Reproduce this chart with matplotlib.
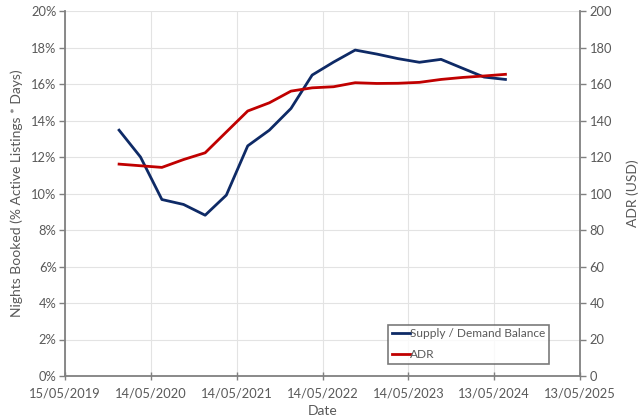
import matplotlib
matplotlib.use("Agg")
import matplotlib.pyplot as plt
import matplotlib.dates as mdates
import pandas as pd
import numpy as np
from matplotlib.ticker import FuncFormatter, MultipleLocator

dates = pd.date_range("2019-12-31", "2024-06-30", freq="QE")
supply_demand = [13.47, 12.0, 9.67, 9.40, 8.81, 9.91, 12.61, 13.47, 14.66, 16.49,
                 17.2, 17.86, 17.64, 17.39, 17.19, 17.35, 16.86, 16.38, 16.25]
adr = [116.1, 115.2, 114.3, 118.6, 122.3, 133.7, 145.2, 149.7, 156.1, 157.9,
       158.5, 160.7, 160.3, 160.4, 160.9, 162.5, 163.6, 164.4, 165.3]
x_start = pd.Timestamp("2019-05-15")
x_ticks = [x_start + pd.Timedelta(days=365 * i) for i in range(7)]

plt.rcParams['font.family'] = ['Lato', 'DejaVu Sans']
gray_text = '#595959'
spine_c = '#808080'

fig = plt.figure(figsize=(6.4, 4.18), dpi=100)
ax = fig.add_axes([65/640, 1 - 376/418, 515/640, 365/418])
ax2 = ax.twinx()

l1, = ax.plot(dates, supply_demand, color='#0E2A66', lw=2.0, label='Supply / Demand Balance')
l2, = ax2.plot(dates, adr, color='#C00000', lw=2.0, label='ADR')

ax.set_xlim(x_ticks[0], x_ticks[-1])
ax.set_ylim(0, 20)
ax2.set_ylim(0, 200)
ax.yaxis.set_major_locator(MultipleLocator(2))
ax.yaxis.set_major_formatter(FuncFormatter(lambda v, p: f"{v:.0f}%"))
ax2.yaxis.set_major_locator(MultipleLocator(20))
ax.set_xticks(x_ticks)
ax.set_xticklabels([d.strftime("%d/%m/%Y") for d in x_ticks])

ax.grid(True, color='#E3E3E3', lw=0.8)
ax.set_axisbelow(True)
for a in (ax, ax2):
    a.spines['top'].set_visible(False)
    for s in ('left', 'right', 'bottom'):
        a.spines[s].set_color(spine_c)
        a.spines[s].set_linewidth(1.3)
ax.spines['right'].set_visible(False)
ax2.spines['left'].set_visible(False)
ax2.spines['bottom'].set_visible(False)

ax.tick_params(axis='y', colors=gray_text, labelsize=9.3, length=4, width=1, color=spine_c, pad=2)
ax.tick_params(axis='x', colors=gray_text, labelsize=9.3, length=6, width=1, color=spine_c, direction='inout', pad=5)
ax2.tick_params(axis='y', colors=gray_text, labelsize=9.3, length=4, width=1, color=spine_c, pad=3)

ax.set_ylabel("Nights Booked (% Active Listings * Days)", color=gray_text, fontsize=10, labelpad=6)
ax2.set_ylabel("ADR (USD)", color=gray_text, fontsize=10, labelpad=10)
ax.set_xlabel("Date", color=gray_text, fontsize=10, labelpad=4)

leg = ax2.legend(handles=[l1, l2], loc='lower right', bbox_to_anchor=(549/640, 1 - 364/418),
                 bbox_transform=fig.transFigure, frameon=True, fancybox=False,
                 fontsize=8.6, handlelength=1.5, handletextpad=0.05, borderpad=0.3,
                 labelspacing=0.85, borderaxespad=0)
leg.get_frame().set_edgecolor('#595959')
leg.get_frame().set_linewidth(1.2)
for t in leg.get_texts():
    t.set_color(gray_text)

fig.savefig("out.png", dpi=100)
